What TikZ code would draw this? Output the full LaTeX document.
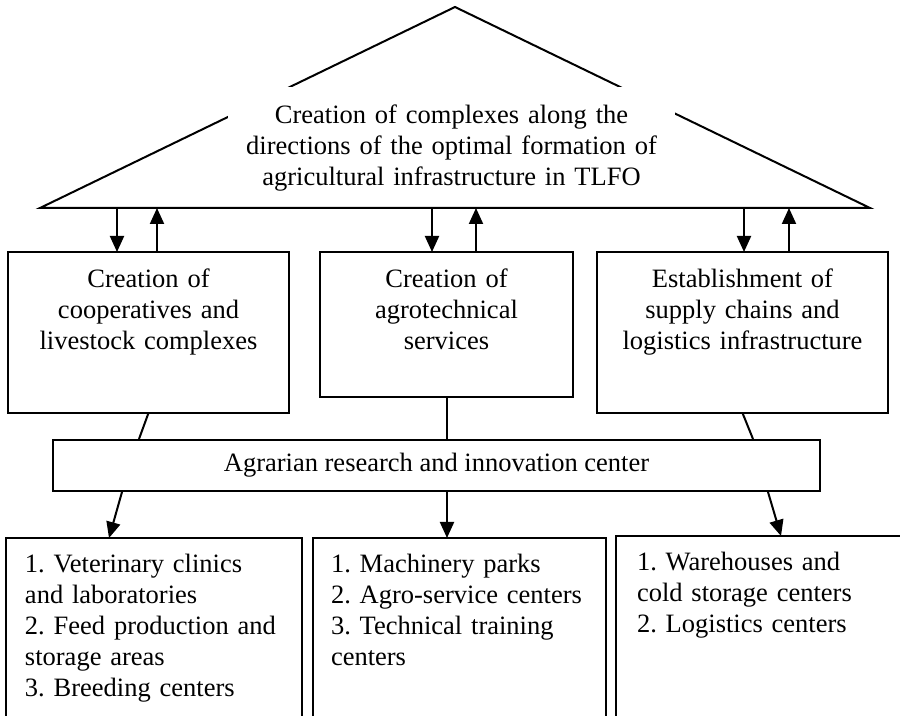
\documentclass[tikz,border=0pt]{standalone}
\usepackage{fontspec}
\setmainfont{Liberation Serif}
\usetikzlibrary{arrows.meta,positioning}

\begin{document}
\begin{tikzpicture}[x=1pt, y=-1pt,
    every node/.style={font=\fontsize{13.25pt}{15.5pt}\selectfont, execute at begin node={\frenchspacing\hyphenpenalty=10000}},
    block/.style={rectangle, draw, line width=1pt, inner sep=0pt, outer sep=0pt, text height=18pt, align=center},
    listbox/.style={rectangle, draw, line width=1pt, inner ysep=0pt, inner xsep=10.5pt, outer sep=0pt, text height=17.5pt, text depth=75pt, align=left},
    line/.style={draw, -{Triangle[width=7pt,length=8pt]}, line width=1pt},
    link/.style={draw, line width=1pt}]

    \useasboundingbox[fill=white] (0,0) rectangle (450,358);

    % Roof
    \coordinate (apex) at (227.5,3.5);
    \coordinate (baseL) at (20,104);
    \coordinate (baseR) at (435,104);
    \draw[line width=1pt] (baseL) -- (apex) -- (baseR) -- cycle;
    \node [fill=white, inner sep=0pt, text width=223.5pt, align=center, text height=18pt, text depth=38.5pt, anchor=north] (goal) at (225.75,43.5)
        {Creation of complexes along the\\directions of the optimal formation of\\agricultural infrastructure in TLFO};

    % Nodes
    \node [block, text width=140.5pt, text depth=62.5pt, anchor=north west] (coop) at (4,126)
        {Creation of\\cooperatives and\\livestock complexes};
    \node [block, text width=126.5pt, text depth=54.5pt, right=15.5pt of coop.north east, anchor=north west] (agro)
        {Creation of\\agrotechnical\\services};
    \node [block, text width=145.5pt, text depth=62.5pt, right=12pt of agro.north east, anchor=north west] (supply)
        {Establishment of\\supply chains and\\logistics infrastructure};
    \node [rectangle, draw, line width=1pt, inner sep=0pt, minimum width=383.5pt, minimum height=25.5pt] (research) at (218.25,232.75)
        {Agrarian research and innovation center};
    \node [listbox, text width=129pt, inner xsep=9.5pt, anchor=north west] (vet) at (3,269)
        {1. Veterinary clinics\\and laboratories\\2. Feed production and\\storage areas\\3. Breeding centers};
    \node [listbox, text width=128.5pt, inner xsep=9pt, right=5.5pt of vet.north east, anchor=north west] (mach)
        {1. Machinery parks\\2. Agro-service centers\\3. Technical training\\centers};
    \node [listbox, text width=124pt, right=5pt of mach.north east, anchor=north west, yshift=1pt] (store)
        {1. Warehouses and\\cold storage centers\\2. Logistics centers};

    % Edges
    \path [line] ([xshift=54.5pt, yshift=22pt]coop.north west) -- ([xshift=54.5pt]coop.north west);
    \path [line] ([xshift=74.5pt]coop.north west) -- ([xshift=74.5pt, yshift=22pt]coop.north west);
    \path [line] ([xshift=56pt, yshift=22pt]agro.north west) -- ([xshift=56pt]agro.north west);
    \path [line] ([xshift=78pt]agro.north west) -- ([xshift=78pt, yshift=22pt]agro.north west);
    \path [line] ([xshift=73.5pt, yshift=22pt]supply.north west) -- ([xshift=73.5pt]supply.north west);
    \path [line] ([xshift=96pt]supply.north west) -- ([xshift=96pt, yshift=22pt]supply.north west);

    \path [link] (coop.south) -- ([xshift=43.5pt]research.north west);
    \path [link] (agro.south) -- (agro.south |- research.north);
    \path [link] (supply.south) -- ([xshift=-34pt]research.north east);

    \path [line] ([xshift=35pt]research.south west) -- ([xshift=51.5pt]vet.north west);
    \path [line] ([xshift=5.25pt]research.south) -- ([xshift=67pt]mach.north west);
    \path [line] ([xshift=-26.5pt]research.south east) -- ([xshift=82.5pt]store.north west);
  \end{tikzpicture}
\end{document}
